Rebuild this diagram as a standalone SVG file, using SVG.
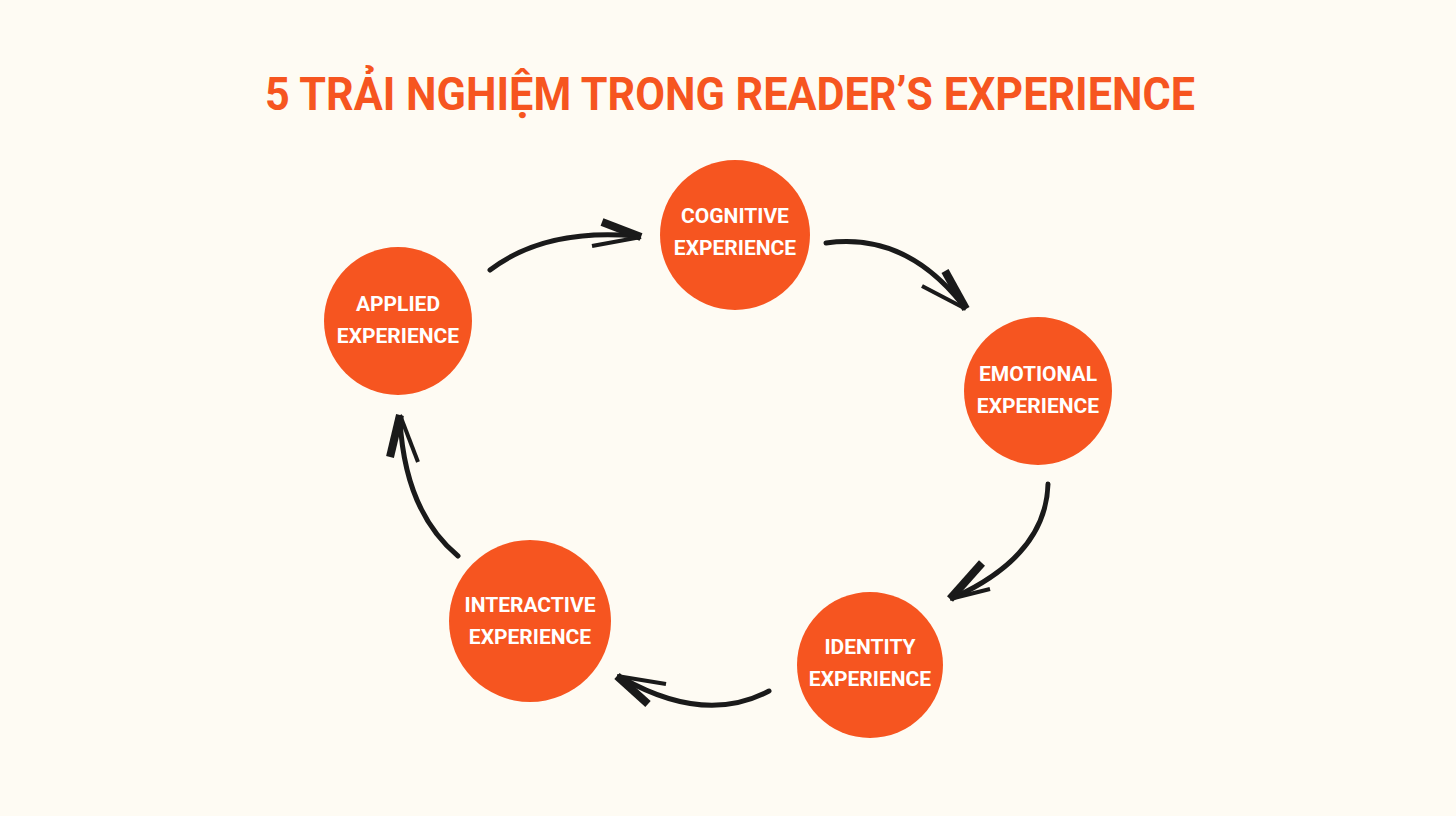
<svg xmlns="http://www.w3.org/2000/svg" width="1456" height="816" viewBox="0 0 1456 816">
<style>
.bg{fill:#FEFBF3}
.title{font-family:Roboto,"Liberation Sans",sans-serif;font-weight:700;font-size:47px;fill:#F65520}
.node{fill:#F65520}
.lbl{font-family:Roboto,"Liberation Sans",sans-serif;font-weight:700;font-size:21px;fill:#FFFFFF;text-anchor:middle}
.curve{fill:none;stroke:#1A1A1A;stroke-width:5;stroke-linecap:round}
.barb1{fill:none;stroke:#1A1A1A;stroke-width:8;stroke-linecap:butt}
.barb2{fill:none;stroke:#1A1A1A;stroke-width:4;stroke-linecap:butt}
</style>
<rect class="bg" x="0" y="0" width="1456" height="816"/>
<text class="title" x="265" y="110" textLength="930" lengthAdjust="spacingAndGlyphs">5 TRẢI NGHIỆM TRONG READER’S EXPERIENCE</text>

<g id="connectors">
  <g id="c-applied-cognitive">
    <path class="curve" d="M490,270 Q545,228 636,236"/>
    <path class="barb1" d="M602,222 L641,237"/>
    <path class="barb2" d="M592,246 L641,237"/>
  </g>
  <g id="c-cognitive-emotional">
    <path class="curve" d="M826,243 Q905,232 962,304"/>
    <path class="barb1" d="M945,271 L966,309"/>
    <path class="barb2" d="M922,286 L966,309"/>
  </g>
  <g id="c-emotional-identity">
    <path class="curve" d="M1048,484 Q1046,555 955,597"/>
    <path class="barb1" d="M982,563 L950,599"/>
    <path class="barb2" d="M990,589 L950,599"/>
  </g>
  <g id="c-identity-interactive">
    <path class="curve" d="M769,691 Q705,725 622,678"/>
    <path class="barb1" d="M648,704 L617,676"/>
    <path class="barb2" d="M666,684 L617,676"/>
  </g>
  <g id="c-interactive-applied">
    <path class="curve" d="M458,556 Q405,512 400,420"/>
    <path class="barb1" d="M390,457 L400,415"/>
    <path class="barb2" d="M418,462 L400,415"/>
  </g>
</g>

<g id="cognitive">
  <circle class="node" cx="735" cy="235" r="75"/>
  <text class="lbl" x="735" y="223">COGNITIVE</text>
  <text class="lbl" x="735" y="255">EXPERIENCE</text>
</g>
<g id="applied">
  <circle class="node" cx="398" cy="321" r="74"/>
  <text class="lbl" x="398" y="311">APPLIED</text>
  <text class="lbl" x="398" y="343">EXPERIENCE</text>
</g>
<g id="emotional">
  <circle class="node" cx="1038" cy="391" r="74"/>
  <text class="lbl" x="1038" y="381">EMOTIONAL</text>
  <text class="lbl" x="1038" y="413">EXPERIENCE</text>
</g>
<g id="identity">
  <circle class="node" cx="870" cy="665" r="73"/>
  <text class="lbl" x="870" y="654">IDENTITY</text>
  <text class="lbl" x="870" y="686">EXPERIENCE</text>
</g>
<g id="interactive">
  <circle class="node" cx="530" cy="621" r="81"/>
  <text class="lbl" x="530" y="612">INTERACTIVE</text>
  <text class="lbl" x="530" y="644">EXPERIENCE</text>
</g>
</svg>
